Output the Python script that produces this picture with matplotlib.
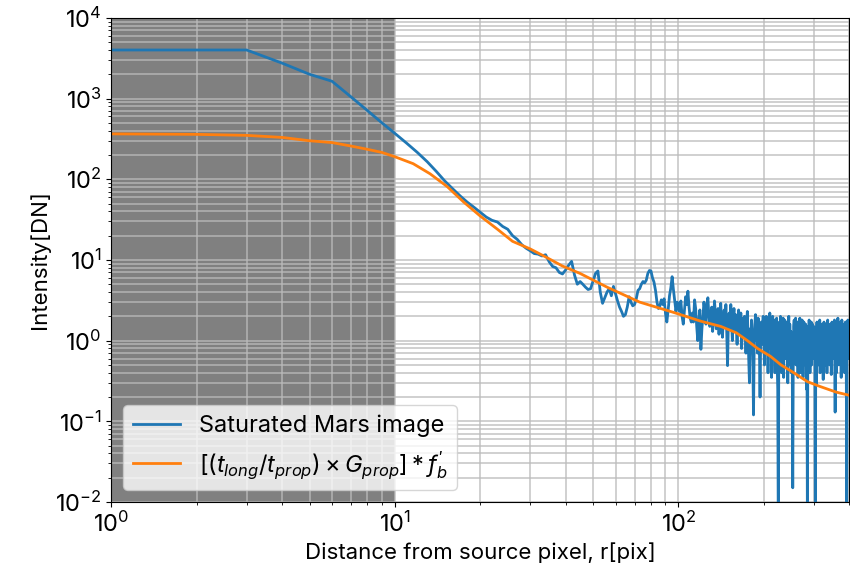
import numpy as np
import matplotlib
matplotlib.use('Agg')
from matplotlib import pyplot as plt

plt.rcParams['font.family'] = ['Inter', 'DejaVu Sans']
plt.rcParams['mathtext.fontset'] = 'custom'
plt.rcParams['mathtext.rm'] = 'Inter'
plt.rcParams['mathtext.it'] = 'Inter:italic'
plt.rcParams['mathtext.bf'] = 'Inter:bold'

# measured profile, one value per pixel radius r = 1..400
r_meas = np.arange(1, 401)
i_meas = [
    4000, 4000, 4000, 2750, 2000, 1640, 1050, 710, 500, 370,
    280, 215, 165, 125, 95, 76, 62, 52, 45, 39,
    34, 31, 29.5, 26, 24, 20, 18, 15.5, 14, 13,
    12, 11.8, 11.2, 11.6, 9.5, 8.3, 8.0, 7.0, 6.7, 7.5,
    8.6, 9.6, 6.5, 5.0, 5.4, 5.0, 4.6, 4.3, 4.4, 5.5,
    6.8, 7.3, 4.0, 2.9, 3.4, 4.0, 4.4, 3.6, 4.7, 3.8,
    3.1, 2.6, 2.3, 2.0, 2.1, 2.6, 3.5, 3.0, 2.7, 2.8,
    3.3, 4.2, 4.4, 5.0, 5.4, 5.2, 5.6, 6.8, 7.4, 7.3,
    6.0, 5.3, 4.2, 3.0, 2.5, 2.7, 3.2, 2.8, 3.3, 2.2,
    1.7, 2.4, 3.6, 4.5, 6.2, 4.3, 3.1, 2.3, 3.0, 2.6,
    2.3, 3.1, 2.0, 1.6, 2.4, 3.5, 2.8, 4.1, 2.6, 1.9,
    1.7, 2.2, 1.7, 3.2, 2.5, 1.5, 1.0, 1.8, 2.4, 0.78,
    1.4, 2.0, 3.0, 2.3, 1.6, 2.7, 3.4, 2.1, 1.5, 1.9,
    2.6, 1.3, 1.8, 3.1, 2.2, 1.4, 1.7, 2.5, 1.2, 2.0,
    2.9, 1.6, 1.1, 1.9, 2.4, 1.5, 2.8, 1.3, 0.49, 1.7,
    2.2, 1.4, 2.8, 1.6, 1.0, 1.9, 2.5, 1.3, 2.1, 1.5,
    0.9, 1.8, 2.4, 1.2, 1.6, 2.2, 0.8, 1.4, 1.9, 1.1,
    2.0, 1.5, 0.7, 1.7, 2.3, 1.1, 0.6, 0.3, 1.4, 0.9,
    1.8, 1.2, 0.5, 0.12, 0.9, 1.6, 2.1, 1.0, 1.4, 0.7,
    1.9, 1.2, 0.8, 0.2, 1.1, 1.7, 0.9, 1.3, 2.0, 1.0,
    0.5, 1.7, 1.1, 2.0, 0.7, 1.4, 0.4, 1.8, 1.0, 2.2,
    0.8, 1.5, 0.35, 1.3, 2.0, 0.6, 1.2, 1.8, 0.4, 1.4,
    0.9, 1.9, 0.5, 0.25, 0.004, 1.3, 1.7, 0.7, 2.0, 1.1,
    0.4, 1.6, 0.8, 1.9, 0.35, 1.3, 1.8, 0.6, 1.0, 1.7,
    0.7, 1.5, 0.3, 1.2, 2.0, 0.5, 1.6, 0.8, 1.3, 0.4,
    1.1, 0.6, 0.015, 0.45, 1.5, 1.8, 0.7, 1.2, 1.9, 0.5,
    1.3, 0.8, 1.7, 0.35, 1.1, 1.6, 0.6, 1.9, 1.2, 0.4,
    1.4, 0.7, 1.8, 1.0, 0.35, 1.3, 1.7, 0.8, 1.2, 0.5,
    1.6, 0.7, 0.25, 0.9, 0.004, 1.1, 1.5, 0.6, 1.8, 1.1,
    0.4, 1.4, 0.8, 1.7, 0.5, 1.2, 1.6, 0.7, 1.1, 1.5,
    0.6, 1.3, 0.5, 0.004, 0.9, 0.28, 1.2, 1.7, 0.7, 1.1,
    1.5, 0.5, 1.2, 0.8, 1.8, 0.4, 1.3, 0.7, 1.6, 1.0,
    0.6, 1.5, 0.9, 0.33, 1.2, 1.7, 0.7, 1.4, 0.5, 1.1,
    1.6, 0.8, 1.3, 0.4, 1.1, 1.8, 0.6, 1.2, 1.5, 0.7,
    1.1, 0.5, 1.6, 0.9, 1.3, 0.38, 1.2, 1.7, 0.7, 1.0,
    1.5, 0.6, 1.2, 0.8, 1.8, 0.5, 0.13, 0.7, 1.4, 1.0,
    0.4, 1.6, 0.8, 1.2, 1.9, 0.7, 1.3, 0.5, 1.1, 1.5,
    0.8, 1.7, 0.6, 1.2, 0.35, 1.3, 1.8, 0.7, 1.1, 1.5,
    0.5, 1.2, 1.6, 0.8, 1.3, 0.4, 1.1, 1.7, 0.7, 1.2,
    0.28, 0.004, 0.9, 1.5, 1.0, 1.8, 0.6, 1.3, 0.9, 1.4,
]

# scaled model profile
r_model = [1, 2, 3, 4, 5, 6, 7, 8, 9, 10, 11.6, 13.3, 15.3, 17.5, 20, 23, 26,
           30, 34, 39, 45, 56, 73, 96, 120, 141, 160, 175, 190, 211, 230, 255,
           285, 316, 360, 400]
i_model = [365, 360, 350, 330, 300, 285, 258, 235, 215, 190, 156, 117, 81, 52,
           35, 24, 17, 13.7, 10.9, 8.4, 6.8, 4.6, 3.0, 2.24, 1.74, 1.5, 1.25,
           1.0, 0.8, 0.64, 0.5, 0.40, 0.31, 0.27, 0.23, 0.21]

r_saturated = (1, 10)

fig = plt.figure(figsize=(8.5, 5.77), dpi=100)
ax = fig.add_axes([0.131, 0.13, 0.868, 0.839])

ax.axvspan(r_saturated[0], r_saturated[1], color='gray', lw=0)
ax.plot(r_meas, i_meas, color='#1f77b4', lw=2, label='Saturated Mars image')
ax.plot(r_model, i_model, color='#ff7f0e', lw=2,
        label=r'$[(t_{long}/t_{prop})\times G_{prop}]*f^{\prime}_b$')

ax.set_xscale('log')
ax.set_yscale('log')
ax.set_xlim(1, 400)
ax.set_ylim(1e-2, 1e4)
ax.grid(which='both', color='#bbbbbb', alpha=0.8, lw=1.2)

ax.set_xlabel('Distance from source pixel, r[pix]', fontsize=16)
ax.set_ylabel('Intensity[DN]', fontsize=16)
ax.tick_params(labelsize=17)
ax.legend(loc='lower left', fontsize=17)

fig.savefig('out.png', dpi=100)
